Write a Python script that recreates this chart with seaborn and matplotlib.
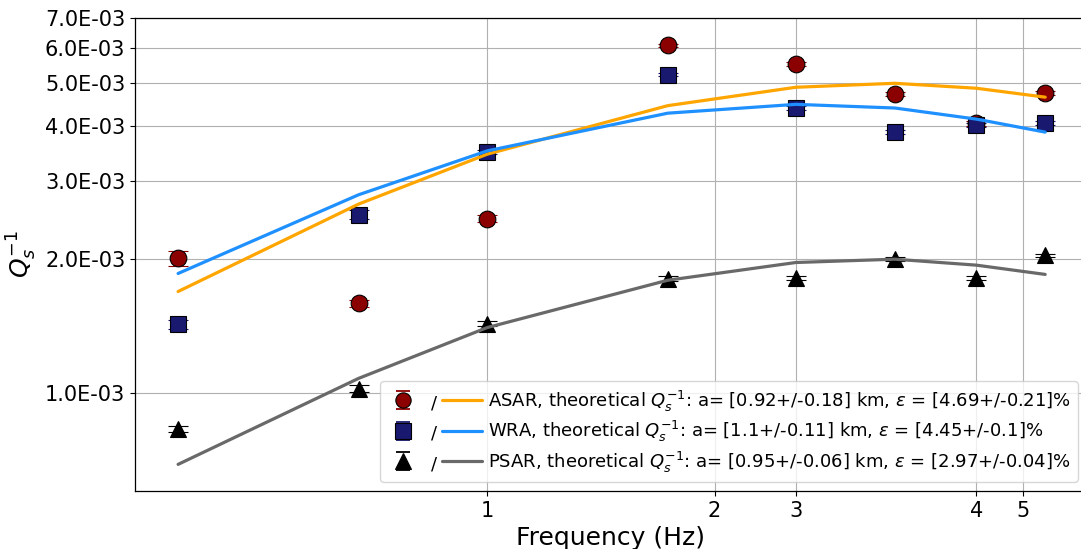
import matplotlib
matplotlib.use("Agg")
import matplotlib.pyplot as plt
import seaborn as sns
from matplotlib.lines import Line2D
from matplotlib.text import Text
from matplotlib.ticker import NullLocator, FixedLocator, FixedFormatter, FormatStrFormatter

# ---------------- data ----------------
freq = [0.390, 0.676, 1.0, 1.734, 2.562, 3.464, 4.441, 5.476]

asar_obs = [2.01e-3, 1.59e-3, 2.47e-3, 6.07e-3, 5.51e-3, 4.71e-3, 4.05e-3, 4.74e-3]
asar_err = [0.08e-3, 0.03e-3, 0.04e-3, 0.06e-3, 0.06e-3, 0.05e-3, 0.05e-3, 0.05e-3]
wra_obs = [1.427e-3, 2.518e-3, 3.49e-3, 5.21e-3, 4.386e-3, 3.877e-3, 4.016e-3, 4.06e-3]
wra_err = [0.035e-3, 0.06e-3, 0.04e-3, 0.04e-3, 0.04e-3, 0.04e-3, 0.04e-3, 0.04e-3]
psar_obs = [0.829e-3, 1.021e-3, 1.43e-3, 1.809e-3, 1.815e-3, 2.0e-3, 1.815e-3, 2.04e-3]
psar_err = [0.014e-3, 0.017e-3, 0.02e-3, 0.02e-3, 0.02e-3, 0.02e-3, 0.02e-3, 0.02e-3]

asar_theo = [1.691e-3, 2.663e-3, 3.45e-3, 4.44e-3, 4.885e-3, 4.987e-3, 4.86e-3, 4.64e-3]
wra_theo = [1.857e-3, 2.795e-3, 3.51e-3, 4.27e-3, 4.47e-3, 4.386e-3, 4.14e-3, 3.87e-3]
psar_theo = [0.689e-3, 1.077e-3, 1.402e-3, 1.793e-3, 1.966e-3, 2.0e-3, 1.939e-3, 1.848e-3]

labels = [
    r"ASAR, theoretical $Q_s^{-1}$: a= [0.92+/-0.18] km, $\epsilon$ = [4.69+/-0.21]%",
    r"WRA, theoretical $Q_s^{-1}$: a= [1.1+/-0.11] km, $\epsilon$ = [4.45+/-0.1]%",
    r"PSAR, theoretical $Q_s^{-1}$: a= [0.95+/-0.06] km, $\epsilon$ = [2.97+/-0.04]%",
]

xtick_vals = [1.0, 2.0, 2.562, 4.441, 5.12]
xtick_labels = ["1", "2", "3", "4", "5"]
ytick_vals = [1e-3, 2e-3, 3e-3, 4e-3, 5e-3, 6e-3, 7e-3]

# ---------------- style ----------------
sns.set_style("ticks")
plt.rcParams.update({
    "font.family": ["DejaVu Sans"],
    "axes.edgecolor": "black",
    "axes.linewidth": 0.9,
    "text.color": "black",
    "axes.labelcolor": "black",
    "xtick.color": "black",
    "ytick.color": "black",
    "xtick.direction": "out",
    "ytick.direction": "out",
    "xtick.major.size": 3.5,
    "ytick.major.size": 3.5,
    "axes.grid": True,
    "grid.color": "#b0b0b0",
    "grid.linewidth": 0.8,
    "grid.linestyle": "-",
})

fig = plt.figure(figsize=(10.81, 5.49), dpi=100)
ax = fig.add_axes([135 / 1081, 58 / 549, (1087 - 135) / 1081, 473 / 549])
ax.set_xscale("log")
ax.set_yscale("log")

series = [
    (asar_obs, asar_err, asar_theo, "o", "darkred", "darkred", "orange"),
    (wra_obs, wra_err, wra_theo, "s", "midnightblue", "midnightblue", "dodgerblue"),
    (psar_obs, psar_err, psar_theo, "^", "black", "black", "dimgray"),
]

handles = []
for obs, err, theo, mk, fc, ec, lc in series:
    eb = ax.errorbar(freq, obs, yerr=err, fmt=mk, ms=12, mfc=fc, mec="black",
                     mew=0.8, ecolor=ec, elinewidth=1.5, capsize=7.5,
                     capthick=1.5, zorder=3, linestyle="none")
    n_before = len(ax.lines)
    sns.lineplot(x=freq, y=theo, color=lc, lw=2.3, ax=ax, zorder=4,
                 estimator=None, sort=False)
    line = ax.lines[n_before]
    handles.append((eb, line, ec))


class ObsSlashTheoHandler:
    """Legend entry: errorbar marker, a '/' and the theoretical line."""

    def legend_artist(self, legend, orig_handle, fontsize, handlebox):
        eb, line, ecol = orig_handle
        dline = eb[0]
        x0, y0 = handlebox.xdescent, handlebox.ydescent
        h = handlebox.height
        yc = y0 + h / 2
        tr = handlebox.get_transform()
        mx = x0 + 11.2
        for dy in (-6.5, 6.5):
            cap = Line2D([mx], [yc + dy], marker="_", ms=9.4, mew=1.3,
                         color=ecol, mec=ecol, linestyle="none", transform=tr)
            handlebox.add_artist(cap)
        mk = Line2D([mx], [yc], marker=dline.get_marker(), ms=11,
                    mfc=dline.get_markerfacecolor(), mec="black", mew=0.8,
                    linestyle="none", transform=tr)
        handlebox.add_artist(mk)
        txt = Text(x0 + 33.3, yc - 2.0, "/", ha="center", va="center",
                   fontsize=fontsize, transform=tr)
        handlebox.add_artist(txt)
        ln = Line2D([x0 + 39.5, x0 + 68.3], [yc, yc], color=line.get_color(),
                    lw=line.get_linewidth(), transform=tr)
        handlebox.add_artist(ln)
        return mk


ax.legend(handles, labels, handler_map={tuple: ObsSlashTheoHandler()},
          loc="lower right", fontsize=13, handlelength=5.25,
          handletextpad=0.32, borderpad=0.4, labelspacing=0.3)

ax.set_xlim(0.342, 6.22)
ax.set_ylim(6e-4, 7e-3)
ax.xaxis.set_major_locator(FixedLocator(xtick_vals))
ax.xaxis.set_major_formatter(FixedFormatter(xtick_labels))
ax.xaxis.set_minor_locator(NullLocator())
ax.yaxis.set_major_locator(FixedLocator(ytick_vals))
ax.yaxis.set_major_formatter(FormatStrFormatter("%.1E"))
ax.yaxis.set_minor_locator(NullLocator())
ax.tick_params(axis="both", labelsize=15)
ax.grid(True, which="major", color="#b0b0b0", lw=0.8)
ax.set_axisbelow(True)
ax.spines["right"].set_visible(False)

ax.set_xlabel("Frequency (Hz)", fontsize=18)
ax.set_ylabel(r"$Q_s^{-1}$", fontsize=18)

fig.savefig("out.png", dpi=100)
